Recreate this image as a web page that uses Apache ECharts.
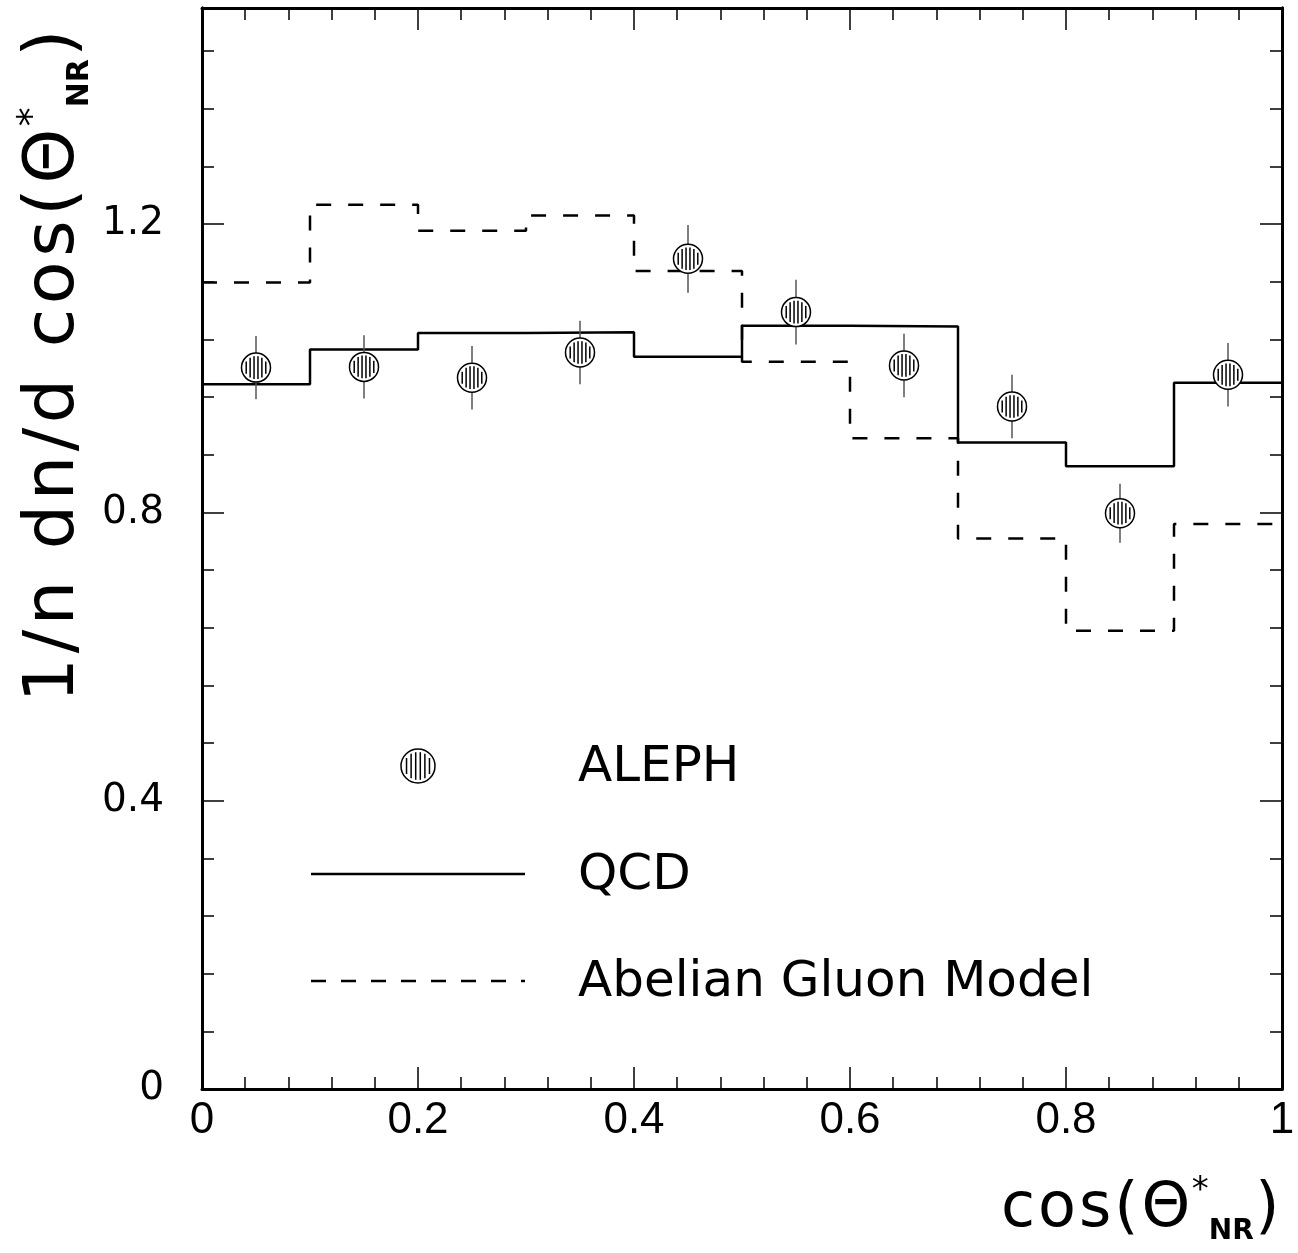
<!DOCTYPE html>
<html><head><meta charset="utf-8">
<script src="https://cdn.jsdelivr.net/npm/echarts@6/dist/echarts.min.js"></script>
<style>html,body{margin:0;padding:0;background:#fff}#c{width:1298px;height:1253px}</style>
</head><body><div id="c"></div>
<script>
// ---- data ----
const binEdges = [0, 0.1, 0.2, 0.3, 0.4, 0.5, 0.6, 0.7, 0.8, 0.9, 1.0];
const qcdValues = [0.978, 1.026, 1.049, 1.050, 1.016, 1.059, 1.058, 0.897, 0.864, 0.980];
const abelianValues = [1.119, 1.227, 1.191, 1.212, 1.135, 1.009, 0.903, 0.764, 0.636, 0.784];
const alephX = [0.05, 0.15, 0.25, 0.35, 0.45, 0.55, 0.65, 0.75, 0.85, 0.95];
const alephY = [1.001, 1.002, 0.987, 1.022, 1.152, 1.078, 1.004, 0.947, 0.799, 0.991];
const alephErr = [0.044, 0.044, 0.044, 0.044, 0.047, 0.045, 0.044, 0.044, 0.041, 0.044];
const legendNames = ['ALEPH', 'QCD', 'Abelian Gluon Model'];

function stepData(vals) {
  const d = vals.map((v, i) => [binEdges[i], v]);
  d.push([binEdges[binEdges.length - 1], vals[vals.length - 1]]);
  return d;
}
const alephData = alephX.map((x, i) => [x, alephY[i], alephErr[i]]);

function hatchedMarker(cx, cy, r) {
  const children = [
    { type: 'circle', shape: { cx: cx, cy: cy, r: r }, style: { fill: '#fff', stroke: '#000', lineWidth: 1.5 } }
  ];
  const rIn = r - 3;
  const step = r * 0.27;
  [-2.5, -1.5, -0.5, 0.5, 1.5, 2.5].forEach(k => {
    const dx = k * step;
    const h = Math.sqrt(Math.max(rIn * rIn - dx * dx, 0));
    children.push({ type: 'line', shape: { x1: cx + dx, y1: cy - h, x2: cx + dx, y2: cy + h },
      style: { stroke: '#000', lineWidth: 1.5 } });
  });
  return children;
}

// spaced-out rich text: each character becomes its own token with small padding
function spaced(str, tok) {
  return str.split('').map(ch => '{' + tok + '|' + ch + '}').join('');
}

const axisLine = { show: true, onZero: false, lineStyle: { color: '#000', width: 3 } };
const tickStyle = { color: '#000', width: 1.5 };

function xAx(pos, showLabel) {
  return {
    type: 'value', min: 0, max: 1, interval: 0.2, position: pos,
    axisLine: axisLine,
    axisTick: { show: true, inside: true, length: 22, lineStyle: tickStyle },
    minorTick: { show: true, splitNumber: 5, length: 12, lineStyle: tickStyle },
    axisLabel: { show: showLabel, margin: 10, color: '#000', fontSize: 44, fontFamily: 'Liberation Sans' },
    splitLine: { show: false }, minorSplitLine: { show: false }
  };
}
function yAx(pos, interval, len, showLabel) {
  return {
    type: 'value', min: 0, max: 1.5, interval: interval, position: pos,
    axisLine: axisLine,
    axisTick: { show: true, inside: true, length: len, lineStyle: tickStyle },
    axisLabel: { show: showLabel, showMaxLabel: false, margin: 38, color: '#000', fontSize: 39, fontFamily: 'DejaVu Sans' },
    splitLine: { show: false }
  };
}

const chart = echarts.init(document.getElementById('c'), null, { renderer: 'canvas' });
chart.setOption({
  backgroundColor: '#fff',
  animation: false,
  grid: { left: 202, right: 16, top: 8, bottom: 164, containLabel: false },
  xAxis: [xAx('bottom', true), xAx('top', false)],
  yAxis: [yAx('left', 0.4, 22, true), yAx('left', 0.08, 12, false), yAx('right', 0.4, 22, false), yAx('right', 0.08, 12, false)],
  series: [
    { name: legendNames[1], type: 'line', step: 'end', data: stepData(qcdValues), showSymbol: false, symbol: 'none',
      lineStyle: { color: '#000', width: 2.5 }, z: 3 },
    { name: legendNames[2], type: 'line', step: 'end', data: stepData(abelianValues), showSymbol: false, symbol: 'none',
      lineStyle: { color: '#000', width: 2.5, type: [15, 17] }, z: 3 },
    { name: legendNames[0], type: 'custom', data: alephData, z: 4,
      renderItem: function (params, api) {
        const x = api.value(0), y = api.value(1), e = api.value(2);
        const c = api.coord([x, y]);
        const t = api.coord([x, y + e]);
        const b = api.coord([x, y - e]);
        const children = [
          { type: 'line', shape: { x1: c[0], y1: t[1], x2: c[0], y2: b[1] }, style: { stroke: '#555', lineWidth: 1.5 } }
        ].concat(hatchedMarker(c[0], c[1], 14.5));
        return { type: 'group', children: children };
      }
    }
  ],
  graphic: [
    { type: 'text', x: 55, y: 366, rotation: Math.PI / 2, z: 10,
      style: {
        text: spaced('1/n dn/d cos(Θ', 'm') + '{sup|*}{sub|NR}' + spaced(')', 'm'),
        align: 'center', verticalAlign: 'middle', fill: '#000',
        rich: {
          m: { fontSize: 70, fontFamily: 'DejaVu Sans', fill: '#000', lineHeight: 80, padding: [0, 2.3, 0, 2.3] },
          sup: { fontSize: 38, fontFamily: 'DejaVu Sans', fill: '#000', verticalAlign: 'top' },
          sub: { fontSize: 30, fontWeight: 'bold', fontFamily: 'DejaVu Sans', fill: '#000', verticalAlign: 'bottom' }
        }
      } },
    { type: 'text', x: 1281, y: 1210, z: 10,
      style: {
        text: spaced('cos(Θ', 'm') + '{sup|*}{sub|NR}' + spaced(')', 'm'),
        align: 'right', verticalAlign: 'middle', fill: '#000',
        rich: {
          m: { fontSize: 62, fontFamily: 'DejaVu Sans', fill: '#000', lineHeight: 72, padding: [0, 1.5, 0, 1.5] },
          sup: { fontSize: 34, fontFamily: 'DejaVu Sans', fill: '#000', verticalAlign: 'top' },
          sub: { fontSize: 28, fontWeight: 'bold', fontFamily: 'DejaVu Sans', fill: '#000', verticalAlign: 'bottom' }
        }
      } },
    { type: 'group', children: hatchedMarker(418, 766, 17) },
    { type: 'line', shape: { x1: 311, y1: 874, x2: 525, y2: 874 }, style: { stroke: '#000', lineWidth: 2.5 } },
    { type: 'line', shape: { x1: 311, y1: 981, x2: 525, y2: 981 }, style: { stroke: '#000', lineWidth: 2.5, lineDash: [15, 15] } },
    { type: 'text', x: 578, y: 768, style: { text: legendNames[0], fontSize: 50, fontFamily: 'DejaVu Sans', fill: '#000', verticalAlign: 'middle' } },
    { type: 'text', x: 578, y: 876, style: { text: legendNames[1], fontSize: 50, fontFamily: 'DejaVu Sans', fill: '#000', verticalAlign: 'middle' } },
    { type: 'text', x: 578, y: 983, style: { text: legendNames[2], fontSize: 50, fontFamily: 'DejaVu Sans', fill: '#000', verticalAlign: 'middle' } }
  ]
});
</script>
</body></html>
